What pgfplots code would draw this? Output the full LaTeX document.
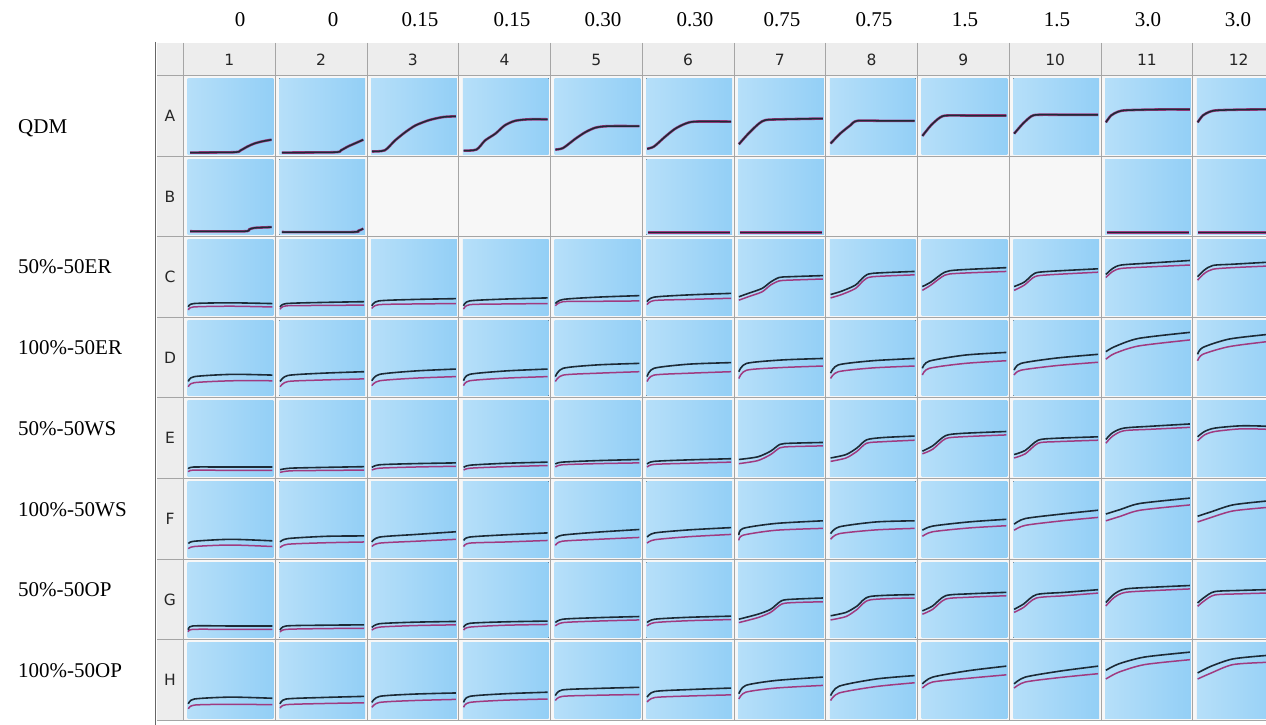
\documentclass[border=0pt]{standalone}
\usepackage{fontspec}
\setmainfont{Liberation Serif}
\newfontfamily\hdr{DejaVu Sans}
\usepackage{pgfplots}
\pgfplotsset{compat=1.18}
\definecolor{wl}{HTML}{B6DFF9}
\definecolor{wr}{HTML}{93CFF6}
\definecolor{emptyw}{HTML}{F7F7F7}
\definecolor{cellbg}{HTML}{F7F7F7}
\definecolor{hdrbg}{HTML}{EDEDED}
\definecolor{gridc}{HTML}{A5A5A5}
\definecolor{bkc}{HTML}{1C2A36}
\definecolor{rdc}{HTML}{A03A80}
\pgfplotsset{wellst/.style={width=85.75pt,height=75.6pt,scale only axis,anchor=north west,
  xmin=0,xmax=1,ymin=0,ymax=1,axis lines=none,ticks=none,clip=false},
  bk/.style={bkc,line width=1.6pt,smooth,tension=0.45,no markers},
  rd/.style={rdc,line width=1.5pt,smooth,tension=0.45,no markers}}
\newcommand{\wellpos}[2]{%
  \pgfmathsetmacro\wx{183.5+(#1-1)*91.75+4}%
  \pgfmathsetmacro\wy{725-75.5-(#2-1)*80.6-3}}
\newcommand{\well}[4]{%
  \wellpos{#1}{#2}%
  \fill[left color=wl,right color=wr] (\wx,\wy) rectangle ++(85.75,-75.6);
  \begin{axis}[wellst,at={(\wx pt,\wy pt)}]
  \addplot[rd] coordinates {#4};
  \addplot[bk] coordinates {#3};
  \end{axis}}
\newcommand{\wellA}[3]{%
  \wellpos{#1}{#2}%
  \fill[left color=wl,right color=wr] (\wx,\wy) rectangle ++(85.75,-75.6);
  \begin{axis}[wellst,at={(\wx pt,\wy pt)}]
  \addplot[rd,line width=2.6pt] coordinates {#3};
  \addplot[bk,line width=1.5pt] coordinates {#3};
  \end{axis}}
\newcommand{\emptywell}[2]{%
  \wellpos{#1}{#2}%
  \fill[emptyw] (\wx,\wy) rectangle ++(85.75,-75.6);}
\begin{document}
\begin{tikzpicture}[x=1pt,y=1pt]
\path[use as bounding box,clip] (0,0) rectangle (1266,725);
\fill[white] (0,0) rectangle (1266,725);
% header band and row-header column
\fill[hdrbg] (157,682) rectangle (1266,649.5);
\fill[hdrbg] (157,649.5) rectangle (183.5,4.7);
\fill[cellbg] (183.5,649.5) rectangle (1266,4.7);
\foreach \c in {1,...,13}{\draw[gridc,line width=0.9pt] ({183.5+(\c-1)*91.75},682) -- ({183.5+(\c-1)*91.75},4.7);}
\foreach \r in {1,...,9}{\draw[gridc,line width=0.9pt] (157,{725-75.5-(\r-1)*80.6}) -- (1266,{725-75.5-(\r-1)*80.6});}
\draw[gray!80!black,line width=1.8pt] (155.5,683) -- (155.5,0);
% ---------- row A ----------
\wellA{1}{1}{(0.03,0.02)(0.55,0.025)(0.62,0.05)(0.70,0.10)(0.78,0.14)(0.88,0.17)(0.98,0.19)}
\wellA{2}{1}{(0.03,0.02)(0.65,0.025)(0.72,0.05)(0.80,0.10)(0.90,0.15)(0.98,0.19)}
\wellA{3}{1}{(0.01,0.035)(0.16,0.05)(0.28,0.18)(0.40,0.29)(0.52,0.38)(0.68,0.45)(0.84,0.49)(0.99,0.50)}
\wellA{4}{1}{(0.01,0.045)(0.16,0.06)(0.26,0.18)(0.38,0.27)(0.49,0.38)(0.61,0.44)(0.77,0.46)(0.99,0.46)}
\wellA{5}{1}{(0.01,0.06)(0.10,0.08)(0.24,0.20)(0.36,0.29)(0.48,0.35)(0.63,0.37)(0.99,0.37)}
\wellA{6}{1}{(0.01,0.07)(0.09,0.10)(0.21,0.22)(0.33,0.33)(0.45,0.40)(0.57,0.43)(0.99,0.43)}
\wellA{7}{1}{(0.01,0.13)(0.12,0.27)(0.24,0.40)(0.32,0.45)(0.51,0.46)(0.99,0.47)}
\wellA{8}{1}{(0.01,0.14)(0.12,0.27)(0.24,0.38)(0.32,0.44)(0.61,0.44)(0.99,0.44)}
\wellA{9}{1}{(0.01,0.24)(0.11,0.38)(0.21,0.48)(0.29,0.51)(0.58,0.51)(0.99,0.51)}
\wellA{10}{1}{(0.01,0.27)(0.11,0.40)(0.21,0.50)(0.29,0.52)(0.60,0.52)(0.99,0.52)}
\wellA{11}{1}{(0.01,0.42)(0.07,0.51)(0.15,0.56)(0.25,0.58)(0.63,0.59)(0.99,0.59)}
\wellA{12}{1}{(0.01,0.42)(0.07,0.51)(0.15,0.56)(0.25,0.58)(0.63,0.59)(0.99,0.59)}
% ---------- row B ----------
\wellA{1}{2}{(0.03,0.045)(0.66,0.045)(0.72,0.07)(0.78,0.09)(0.98,0.10)}
\wellA{2}{2}{(0.03,0.035)(0.85,0.035)(0.92,0.05)(0.98,0.08)}
\emptywell{3}{2}
\emptywell{4}{2}
\emptywell{5}{2}
\wellA{6}{2}{(0.02,0.03)(0.98,0.03)}
\wellA{7}{2}{(0.02,0.03)(0.98,0.03)}
\emptywell{8}{2}
\emptywell{9}{2}
\emptywell{10}{2}
\wellA{11}{2}{(0.02,0.03)(0.98,0.03)}
\wellA{12}{2}{(0.02,0.03)(0.98,0.03)}
% ---------- row C ----------
\well{1}{3}{(0.01,0.11)(0.07,0.155)(0.5,0.165)(0.99,0.155)}{(0.01,0.07)(0.07,0.11)(0.5,0.12)(0.99,0.11)}
\well{2}{3}{(0.01,0.11)(0.08,0.155)(0.5,0.17)(0.99,0.18)}{(0.01,0.08)(0.08,0.125)(0.5,0.13)(0.99,0.135)}
\well{3}{3}{(0.01,0.125)(0.09,0.19)(0.52,0.21)(0.99,0.22)}{(0.01,0.09)(0.09,0.14)(0.52,0.15)(0.99,0.155)}
\well{4}{3}{(0.01,0.125)(0.08,0.19)(0.5,0.215)(0.99,0.23)}{(0.01,0.08)(0.08,0.14)(0.5,0.15)(0.99,0.155)}
\well{5}{3}{(0.01,0.155)(0.1,0.21)(0.5,0.24)(0.99,0.26)}{(0.01,0.125)(0.1,0.18)(0.5,0.185)(0.99,0.19)}
\well{6}{3}{(0.01,0.18)(0.09,0.24)(0.5,0.27)(0.99,0.29)}{(0.01,0.14)(0.09,0.195)(0.5,0.21)(0.99,0.225)}
\well{7}{3}{(0.01,0.245)(0.12,0.29)(0.28,0.355)(0.38,0.44)(0.48,0.50)(0.60,0.51)(0.99,0.525)}{(0.01,0.20)(0.12,0.245)(0.28,0.31)(0.38,0.40)(0.48,0.455)(0.60,0.465)(0.99,0.48)}
\well{8}{3}{(0.01,0.275)(0.14,0.32)(0.30,0.40)(0.40,0.51)(0.50,0.555)(0.99,0.58)}{(0.01,0.23)(0.14,0.275)(0.30,0.355)(0.40,0.465)(0.50,0.51)(0.99,0.535)}
\well{9}{3}{(0.01,0.38)(0.11,0.44)(0.27,0.57)(0.43,0.60)(0.99,0.63)}{(0.01,0.33)(0.11,0.40)(0.27,0.53)(0.43,0.555)(0.99,0.58)}
\well{10}{3}{(0.01,0.38)(0.13,0.44)(0.25,0.555)(0.41,0.58)(0.99,0.615)}{(0.01,0.33)(0.13,0.40)(0.25,0.51)(0.41,0.535)(0.99,0.57)}
\well{11}{3}{(0.01,0.54)(0.09,0.62)(0.19,0.665)(0.51,0.69)(0.99,0.725)}{(0.01,0.50)(0.09,0.58)(0.19,0.62)(0.51,0.64)(0.99,0.665)}
\well{12}{3}{(0.01,0.51)(0.09,0.60)(0.19,0.66)(0.41,0.675)(0.8,0.70)(0.99,0.71)}{(0.01,0.465)(0.09,0.555)(0.19,0.61)(0.41,0.63)(0.8,0.65)(0.99,0.66)}
% ---------- row D ----------
\well{1}{4}{(0.01,0.19)(0.08,0.255)(0.52,0.285)(0.99,0.275)}{(0.01,0.12)(0.08,0.175)(0.52,0.20)(0.99,0.20)}
\well{2}{4}{(0.01,0.19)(0.1,0.27)(0.5,0.30)(0.99,0.32)}{(0.01,0.12)(0.1,0.19)(0.5,0.21)(0.99,0.225)}
\well{3}{4}{(0.01,0.20)(0.1,0.285)(0.52,0.33)(0.99,0.355)}{(0.01,0.135)(0.1,0.20)(0.52,0.235)(0.99,0.255)}
\well{4}{4}{(0.01,0.20)(0.08,0.285)(0.5,0.33)(0.99,0.355)}{(0.01,0.135)(0.08,0.20)(0.5,0.235)(0.99,0.255)}
\well{5}{4}{(0.01,0.255)(0.1,0.365)(0.5,0.41)(0.99,0.43)}{(0.01,0.19)(0.1,0.275)(0.5,0.30)(0.99,0.32)}
\well{6}{4}{(0.01,0.255)(0.09,0.365)(0.5,0.42)(0.99,0.44)}{(0.01,0.19)(0.09,0.275)(0.5,0.30)(0.99,0.32)}
\well{7}{4}{(0.01,0.32)(0.1,0.43)(0.51,0.475)(0.99,0.495)}{(0.01,0.23)(0.1,0.34)(0.51,0.375)(0.99,0.395)}
\well{8}{4}{(0.01,0.30)(0.1,0.41)(0.5,0.465)(0.99,0.495)}{(0.01,0.23)(0.1,0.32)(0.5,0.37)(0.99,0.395)}
\well{9}{4}{(0.01,0.365)(0.09,0.46)(0.51,0.54)(0.99,0.575)}{(0.01,0.275)(0.09,0.365)(0.51,0.43)(0.99,0.465)}
\well{10}{4}{(0.01,0.34)(0.09,0.43)(0.5,0.50)(0.99,0.55)}{(0.01,0.275)(0.09,0.34)(0.5,0.40)(0.99,0.445)}
\well{11}{4}{(0.01,0.585)(0.11,0.65)(0.39,0.76)(0.99,0.84)}{(0.01,0.485)(0.11,0.56)(0.39,0.66)(0.99,0.74)}
\well{12}{4}{(0.01,0.55)(0.07,0.64)(0.37,0.75)(0.8,0.81)(0.99,0.83)}{(0.01,0.465)(0.07,0.55)(0.37,0.65)(0.8,0.715)(0.99,0.735)}
% ---------- row E ----------
\well{1}{5}{(0.01,0.10)(0.07,0.125)(0.5,0.125)(0.99,0.125)}{(0.01,0.06)(0.07,0.085)(0.5,0.08)(0.99,0.08)}
\well{2}{5}{(0.01,0.09)(0.13,0.11)(0.5,0.12)(0.99,0.13)}{(0.01,0.055)(0.13,0.075)(0.5,0.08)(0.99,0.085)}
\well{3}{5}{(0.01,0.12)(0.1,0.155)(0.5,0.17)(0.99,0.18)}{(0.01,0.085)(0.1,0.11)(0.5,0.125)(0.99,0.135)}
\well{4}{5}{(0.01,0.12)(0.09,0.15)(0.5,0.175)(0.99,0.19)}{(0.01,0.085)(0.09,0.11)(0.5,0.13)(0.99,0.145)}
\well{5}{5}{(0.01,0.165)(0.09,0.19)(0.5,0.21)(0.99,0.225)}{(0.01,0.125)(0.09,0.155)(0.5,0.17)(0.99,0.18)}
\well{6}{5}{(0.01,0.165)(0.09,0.20)(0.5,0.22)(0.99,0.235)}{(0.01,0.125)(0.09,0.16)(0.5,0.175)(0.99,0.19)}
\well{7}{5}{(0.01,0.225)(0.23,0.26)(0.38,0.335)(0.49,0.425)(0.62,0.44)(0.99,0.45)}{(0.01,0.17)(0.23,0.21)(0.38,0.29)(0.49,0.38)(0.62,0.395)(0.99,0.405)}
\well{8}{5}{(0.01,0.245)(0.19,0.29)(0.32,0.38)(0.43,0.485)(0.62,0.515)(0.99,0.535)}{(0.01,0.20)(0.19,0.245)(0.32,0.335)(0.43,0.44)(0.62,0.46)(0.99,0.48)}
\well{9}{5}{(0.01,0.335)(0.13,0.405)(0.28,0.54)(0.47,0.57)(0.99,0.595)}{(0.01,0.30)(0.13,0.36)(0.28,0.50)(0.47,0.525)(0.99,0.55)}
\well{10}{5}{(0.01,0.29)(0.14,0.345)(0.29,0.48)(0.49,0.505)(0.99,0.525)}{(0.01,0.245)(0.14,0.30)(0.29,0.44)(0.49,0.46)(0.99,0.48)}
\well{11}{5}{(0.01,0.49)(0.09,0.58)(0.22,0.64)(0.54,0.665)(0.99,0.695)}{(0.01,0.44)(0.09,0.535)(0.22,0.605)(0.54,0.625)(0.99,0.65)}
\well{12}{5}{(0.01,0.525)(0.09,0.595)(0.21,0.64)(0.51,0.67)(0.8,0.665)(0.99,0.645)}{(0.01,0.47)(0.09,0.55)(0.21,0.595)(0.51,0.63)(0.8,0.625)(0.99,0.61)}
% ---------- row F ----------
\well{1}{6}{(0.01,0.18)(0.08,0.21)(0.5,0.235)(0.99,0.215)}{(0.01,0.11)(0.08,0.14)(0.5,0.16)(0.99,0.14)}
\well{2}{6}{(0.01,0.20)(0.1,0.245)(0.55,0.275)(0.99,0.28)}{(0.01,0.125)(0.1,0.17)(0.55,0.19)(0.99,0.20)}
\well{3}{6}{(0.01,0.20)(0.1,0.265)(0.53,0.30)(0.99,0.335)}{(0.01,0.14)(0.1,0.185)(0.53,0.21)(0.99,0.235)}
\well{4}{6}{(0.01,0.22)(0.08,0.265)(0.5,0.295)(0.99,0.32)}{(0.01,0.14)(0.08,0.185)(0.5,0.20)(0.99,0.22)}
\well{5}{6}{(0.01,0.245)(0.09,0.29)(0.5,0.33)(0.99,0.365)}{(0.01,0.155)(0.09,0.21)(0.5,0.235)(0.99,0.26)}
\well{6}{6}{(0.01,0.265)(0.1,0.32)(0.5,0.36)(0.99,0.39)}{(0.01,0.185)(0.1,0.23)(0.5,0.27)(0.99,0.30)}
\well{7}{6}{(0.01,0.29)(0.06,0.38)(0.44,0.445)(0.99,0.48)}{(0.01,0.22)(0.06,0.29)(0.44,0.355)(0.99,0.38)}
\well{8}{6}{(0.01,0.31)(0.11,0.40)(0.54,0.465)(0.99,0.48)}{(0.01,0.235)(0.11,0.31)(0.54,0.36)(0.99,0.38)}
\well{9}{6}{(0.01,0.355)(0.13,0.41)(0.55,0.465)(0.99,0.50)}{(0.01,0.275)(0.13,0.335)(0.55,0.385)(0.99,0.415)}
\well{10}{6}{(0.01,0.435)(0.14,0.51)(0.57,0.57)(0.99,0.62)}{(0.01,0.355)(0.14,0.42)(0.57,0.48)(0.99,0.525)}
\well{11}{6}{(0.01,0.57)(0.18,0.63)(0.41,0.71)(0.99,0.78)}{(0.01,0.48)(0.18,0.54)(0.41,0.62)(0.99,0.69)}
\well{12}{6}{(0.01,0.54)(0.17,0.60)(0.42,0.69)(0.8,0.74)(0.99,0.755)}{(0.01,0.465)(0.17,0.525)(0.42,0.61)(0.8,0.655)(0.99,0.67)}
% ---------- row G ----------
\well{1}{7}{(0.01,0.10)(0.06,0.155)(0.5,0.155)(0.99,0.155)}{(0.01,0.075)(0.06,0.11)(0.5,0.11)(0.99,0.11)}
\well{2}{7}{(0.01,0.10)(0.08,0.155)(0.5,0.165)(0.99,0.17)}{(0.01,0.075)(0.08,0.11)(0.5,0.12)(0.99,0.125)}
\well{3}{7}{(0.01,0.135)(0.1,0.185)(0.5,0.205)(0.99,0.215)}{(0.01,0.10)(0.1,0.14)(0.5,0.16)(0.99,0.17)}
\well{4}{7}{(0.01,0.135)(0.08,0.19)(0.5,0.21)(0.99,0.22)}{(0.01,0.10)(0.08,0.14)(0.5,0.165)(0.99,0.175)}
\well{5}{7}{(0.01,0.20)(0.1,0.245)(0.5,0.265)(0.99,0.28)}{(0.01,0.155)(0.1,0.20)(0.5,0.22)(0.99,0.235)}
\well{6}{7}{(0.01,0.20)(0.1,0.245)(0.5,0.27)(0.99,0.285)}{(0.01,0.155)(0.1,0.20)(0.5,0.225)(0.99,0.24)}
\well{7}{7}{(0.01,0.245)(0.23,0.31)(0.38,0.375)(0.51,0.49)(0.66,0.51)(0.99,0.525)}{(0.01,0.20)(0.23,0.265)(0.38,0.335)(0.51,0.445)(0.66,0.465)(0.99,0.475)}
\well{8}{7}{(0.01,0.29)(0.19,0.335)(0.32,0.42)(0.47,0.545)(0.99,0.57)}{(0.01,0.235)(0.19,0.28)(0.32,0.375)(0.47,0.50)(0.99,0.525)}
\well{9}{7}{(0.01,0.355)(0.13,0.42)(0.28,0.555)(0.55,0.58)(0.99,0.60)}{(0.01,0.31)(0.13,0.375)(0.28,0.51)(0.55,0.535)(0.99,0.555)}
\well{10}{7}{(0.01,0.375)(0.12,0.445)(0.27,0.57)(0.6,0.60)(0.99,0.635)}{(0.01,0.335)(0.12,0.40)(0.27,0.525)(0.6,0.555)(0.99,0.59)}
\well{11}{7}{(0.01,0.465)(0.11,0.58)(0.24,0.645)(0.6,0.67)(0.99,0.69)}{(0.01,0.42)(0.11,0.535)(0.24,0.60)(0.6,0.625)(0.99,0.645)}
\well{12}{7}{(0.01,0.46)(0.09,0.535)(0.21,0.61)(0.5,0.625)(0.8,0.635)(0.99,0.64)}{(0.01,0.415)(0.09,0.49)(0.21,0.565)(0.5,0.58)(0.8,0.59)(0.99,0.595)}
% ---------- row H ----------
\well{1}{8}{(0.01,0.19)(0.08,0.255)(0.5,0.28)(0.99,0.265)}{(0.01,0.125)(0.08,0.175)(0.5,0.185)(0.99,0.18)}
\well{2}{8}{(0.01,0.19)(0.08,0.255)(0.5,0.275)(0.99,0.29)}{(0.01,0.135)(0.08,0.18)(0.5,0.195)(0.99,0.205)}
\well{3}{8}{(0.01,0.21)(0.1,0.29)(0.5,0.32)(0.99,0.335)}{(0.01,0.145)(0.1,0.21)(0.5,0.235)(0.99,0.25)}
\well{4}{8}{(0.01,0.21)(0.08,0.29)(0.5,0.325)(0.99,0.345)}{(0.01,0.145)(0.08,0.21)(0.5,0.24)(0.99,0.255)}
\well{5}{8}{(0.01,0.30)(0.09,0.375)(0.5,0.395)(0.99,0.41)}{(0.01,0.235)(0.09,0.29)(0.5,0.305)(0.99,0.315)}
\well{6}{8}{(0.01,0.28)(0.1,0.355)(0.5,0.38)(0.99,0.40)}{(0.01,0.215)(0.1,0.275)(0.5,0.295)(0.99,0.31)}
\well{7}{8}{(0.01,0.325)(0.09,0.435)(0.44,0.50)(0.99,0.545)}{(0.01,0.255)(0.09,0.345)(0.44,0.40)(0.99,0.435)}
\well{8}{8}{(0.01,0.30)(0.11,0.425)(0.54,0.52)(0.99,0.565)}{(0.01,0.235)(0.11,0.335)(0.54,0.42)(0.99,0.47)}
\well{9}{8}{(0.01,0.455)(0.13,0.545)(0.55,0.63)(0.99,0.69)}{(0.01,0.40)(0.13,0.48)(0.55,0.53)(0.99,0.575)}
\well{10}{8}{(0.01,0.455)(0.14,0.545)(0.55,0.625)(0.99,0.69)}{(0.01,0.40)(0.14,0.48)(0.55,0.54)(0.99,0.59)}
\well{11}{8}{(0.01,0.635)(0.16,0.72)(0.46,0.81)(0.99,0.875)}{(0.01,0.52)(0.16,0.61)(0.46,0.71)(0.99,0.775)}
\well{12}{8}{(0.01,0.60)(0.17,0.69)(0.42,0.785)(0.8,0.83)(0.99,0.84)}{(0.01,0.52)(0.17,0.60)(0.42,0.71)(0.8,0.74)(0.99,0.75)}
% ---------- headers ----------
\foreach \c in {1,...,12}{\node[text=black!85,font=\hdr\fontsize{15.5}{18}\selectfont] at ({183.5+(\c-0.5)*91.75},665.5) {\c};}
\foreach \l [count=\r] in {A,B,C,D,E,F,G,H}{\node[text=black!85,font=\hdr\fontsize{15.5}{18}\selectfont] at (170,{725-75.5-(\r-0.5)*80.6}) {\l};}
\foreach \x/\t in {240/0,333/0,420/0.15,512/0.15,603/0.30,695/0.30,782/0.75,874/0.75,965/1.5,1057/1.5,1148/3.0,1238/3.0}{\node[font=\fontsize{21}{24}\selectfont] at (\x,705) {\t};}
\foreach \y/\t in {597/QDM,458/50\%-50ER,377/100\%-50ER,296/50\%-50WS,215/100\%-50WS,135/50\%-50OP,54/100\%-50OP}{\node[anchor=west,inner sep=0pt,font=\fontsize{21}{24}\selectfont] at (18,\y) {\t};}
\end{tikzpicture}
\end{document}
